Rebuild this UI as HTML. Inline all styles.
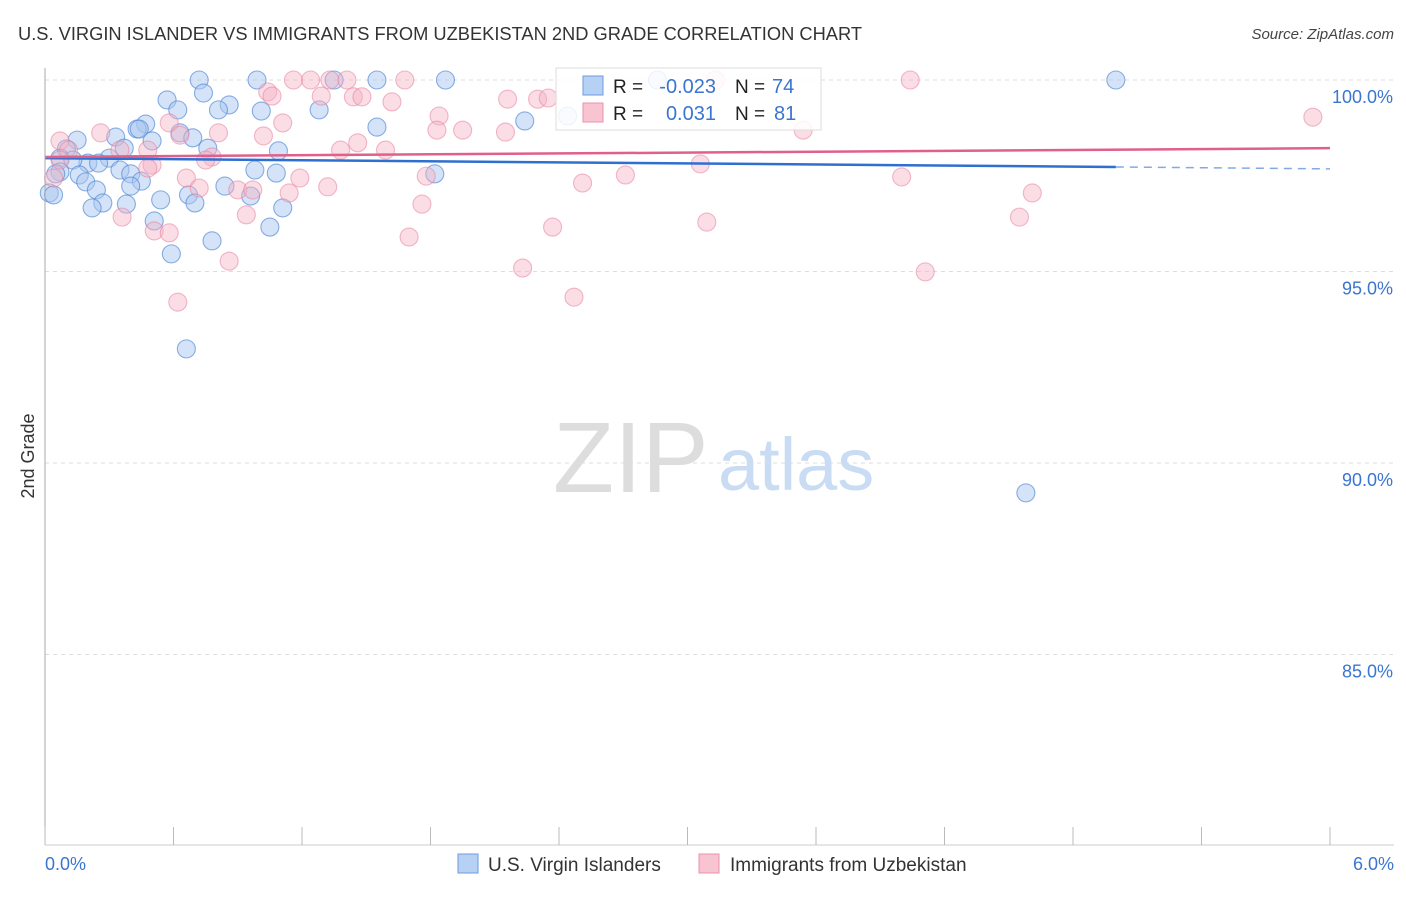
<!DOCTYPE html>
<html><head><meta charset="utf-8"><style>
body{margin:0;background:#fff;font-family:"Liberation Sans",sans-serif;}
svg text{font-family:"Liberation Sans",sans-serif;}
</style></head><body>
<svg id="chart" width="1406" height="892" viewBox="0 0 1406 892">
<text x="18" y="40" font-size="18" fill="#333" textLength="844" lengthAdjust="spacingAndGlyphs">U.S. VIRGIN ISLANDER VS IMMIGRANTS FROM UZBEKISTAN 2ND GRADE CORRELATION CHART</text>
<text x="1394" y="39" font-size="15" fill="#444" text-anchor="end" font-style="italic">Source: ZipAtlas.com</text>
<g id="grid"></g>
<g><text x="553" y="492" font-size="100" fill="#ddd" font-family="Liberation Serif, serif">ZIP</text><text x="718" y="490" font-size="74" fill="#c9dcf3">atlas</text></g>
<g id="points"></g>
<g id="trends"></g>
<line x1="45" y1="68" x2="45" y2="845" stroke="#aaa" stroke-width="1"/>
<line x1="45" y1="845" x2="1394" y2="845" stroke="#ccc" stroke-width="1"/>
<g id="ticks"></g>
<text x="34" y="456" font-size="18" fill="#333" text-anchor="middle" transform="rotate(-90 34 456)">2nd Grade</text>
<text x="45" y="870" font-size="18" fill="#3a75d0">0.0%</text>
<text x="1394" y="870" font-size="18" fill="#3a75d0" text-anchor="end">6.0%</text>
<g>
<rect x="556" y="68" width="265" height="62" fill="#fff" fill-opacity="0.85" stroke="#ddd"/>
<rect x="583" y="76" width="20" height="19" fill="#b7d1f5" stroke="#6d9be0"/>
<rect x="583" y="103" width="20" height="19" fill="#f8c4d2" stroke="#ea92ac"/>
<text x="613" y="93" font-size="19" fill="#222">R =</text><text x="716" y="93" font-size="20" fill="#3a75d0" text-anchor="end">-0.023</text>
<text x="735" y="93" font-size="19" fill="#222">N =</text><text x="772" y="93" font-size="20" fill="#3a75d0">74</text>
<text x="613" y="120" font-size="19" fill="#222">R =</text><text x="716" y="120" font-size="20" fill="#3a75d0" text-anchor="end">0.031</text>
<text x="735" y="120" font-size="19" fill="#222">N =</text><text x="774" y="120" font-size="20" fill="#3a75d0">81</text>
</g>
<g>
<rect x="458" y="854" width="20" height="19" fill="#b7d1f5" stroke="#6d9be0"/>
<text x="488" y="871" font-size="19" fill="#333">U.S. Virgin Islanders</text>
<rect x="699" y="854" width="20" height="19" fill="#f8c4d2" stroke="#ea92ac"/>
<text x="730" y="871" font-size="19" fill="#333">Immigrants from Uzbekistan</text>
</g>
</svg>
<script>
const yTicks=[100,95,90,85];
const yTickLabels=["100.0%","95.0%","90.0%","85.0%"];
const xTicks=[0,0.6,1.2,1.8,2.4,3.0,3.6,4.2,4.8,5.4,6.0];
const blueX=[0.72,0.99,1.35,1.55,1.87,5.00,2.86,0.74,0.57,0.62,0.86,0.81,1.28,1.01,0.47,0.43,0.44,1.55,2.24,0.63,0.69,0.33,0.15,0.50,0.10,0.37,0.76,1.09,0.07,0.30,0.20,0.25,0.13,0.35,0.07,0.05,0.40,0.98,1.08,1.82,0.16,0.19,0.45,0.40,0.84,0.24,0.02,0.04,0.67,0.70,0.96,0.54,0.38,0.27,0.22,1.11,0.51,1.05,0.78,0.59,0.66,4.58,2.44];
const blueY=[100,100,100,100,100,100,100,99.66,99.48,99.22,99.35,99.22,99.22,99.19,98.85,98.72,98.72,98.77,98.93,98.62,98.49,98.51,98.43,98.41,98.20,98.22,98.22,98.15,97.96,97.96,97.83,97.83,97.91,97.65,97.60,97.55,97.55,97.65,97.57,97.55,97.52,97.34,97.36,97.23,97.23,97.13,97.05,97.00,97.00,96.79,96.97,96.87,96.76,96.79,96.66,96.66,96.32,96.16,95.80,95.46,92.98,89.22,99.06];
const pinkX=[1.16,1.24,1.33,1.41,1.68,3.13,4.04,1.04,1.06,1.29,1.44,1.48,1.62,2.16,2.30,2.35,1.84,5.92,1.11,0.58,0.26,1.83,1.95,2.15,3.54,0.81,1.02,0.63,0.07,1.46,1.59,1.38,0.11,0.35,0.48,0.78,0.75,3.06,0.07,0.50,0.48,0.04,0.66,1.19,1.78,2.71,4.00,2.51,1.32,0.72,0.90,0.97,1.14,4.61,1.76,0.94,0.36,0.51,0.58,3.09,2.37,4.55,1.70,0.86,2.23,4.11,2.47,0.62];
const pinkY=[100,100,100,100,100,100,100,99.69,99.58,99.58,99.56,99.56,99.43,99.50,99.50,99.53,99.06,99.03,98.88,98.88,98.62,98.69,98.69,98.64,98.69,98.62,98.54,98.56,98.41,98.36,98.17,98.17,98.17,98.17,98.17,97.99,97.91,97.81,97.91,97.78,97.70,97.44,97.44,97.44,97.49,97.52,97.47,97.31,97.21,97.18,97.13,97.13,97.05,97.05,96.76,96.48,96.42,96.06,96.01,96.29,96.16,96.42,95.90,95.27,95.09,94.99,94.33,94.20];
const blueTrend=[97.96,97.73,97.68];
const pinkTrend=[97.99,98.22];
const X=v=>45+v*(1285/6);
const Y=v=>80+(100-v)*38.3;
const NS="http://www.w3.org/2000/svg";
function mk(t,a,p){const e=document.createElementNS(NS,t);for(const k in a)e.setAttribute(k,a[k]);p.appendChild(e);return e;}
const grid=document.getElementById('grid');
yTicks.forEach((v,i)=>{
  const l=mk('line',{x1:45,x2:1394,y1:Y(v),y2:Y(v),stroke:'#ddd','stroke-dasharray':'4,4'},grid);
  
  
  const t=mk('text',{x:1393,y:Y(v)+23,'font-size':18,fill:'#3a75d0','text-anchor':'end'},grid);
  t.textContent=yTickLabels[i];
  
  
});
const ticks=document.getElementById('ticks');
xTicks.forEach(v=>{
  const l=mk('line',{x1:X(v),x2:X(v),y1:827,y2:845,stroke:'#bbb'},ticks);
  
  
});
const pts=document.getElementById('points');
blueX.forEach((x,i)=>{
  const c=mk('circle',{cx:X(x),cy:Y(blueY[i]),r:9,fill:'#a9c8f0','fill-opacity':0.5,stroke:'#4f86d6','stroke-opacity':0.65,'stroke-width':1.1},pts);
  
  
});
pinkX.forEach((x,i)=>{
  const c=mk('circle',{cx:X(x),cy:Y(pinkY[i]),r:9,fill:'#f5b3c6','fill-opacity':0.45,stroke:'#e8809f','stroke-opacity':0.55,'stroke-width':1.1},pts);
  
  
});
const tr=document.getElementById('trends');
let l1=mk('line',{x1:X(0),y1:Y(blueTrend[0]),x2:X(5),y2:Y(blueTrend[1]),stroke:'#2f6fd0','stroke-width':2.5},tr);


let l2=mk('line',{x1:X(5),y1:Y(blueTrend[1]),x2:X(6),y2:Y(blueTrend[2]),stroke:'#2f6fd0','stroke-width':1.5,'stroke-dasharray':'8,6','stroke-opacity':0.6},tr);


let l3=mk('line',{x1:X(0),y1:Y(pinkTrend[0]),x2:X(6),y2:Y(pinkTrend[1]),stroke:'#e0608a','stroke-width':2.5},tr);


</script>
</body></html>
